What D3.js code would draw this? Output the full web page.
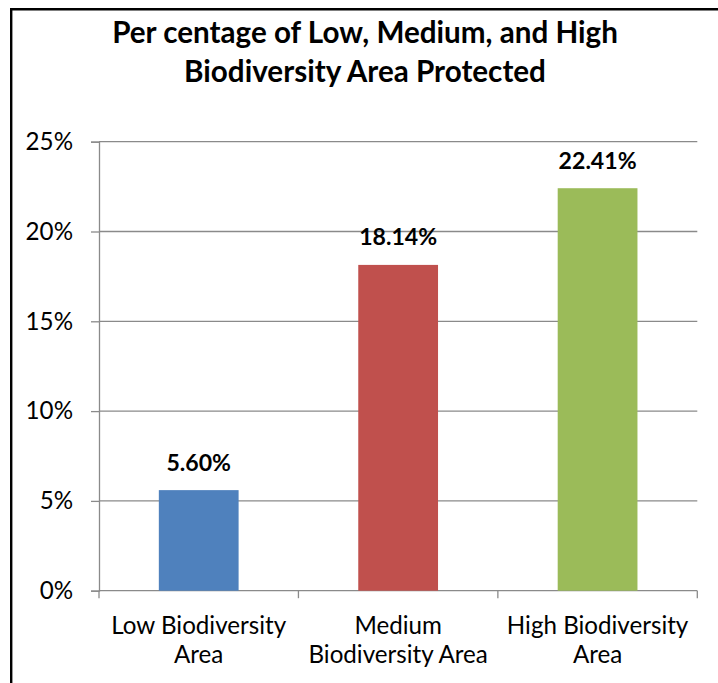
<!DOCTYPE html>
<html><head><meta charset="utf-8">
<script src="https://cdn.jsdelivr.net/npm/d3@7/dist/d3.min.js"></script>
<style>
body{margin:0;background:#fff}
svg{display:block}
text{font-family:Lato,"Open Sans",sans-serif;fill:#000}
</style>
</head><body>
<svg id="chart" width="718" height="683"></svg>
<script>
const categories = ["Low Biodiversity Area", "Medium Biodiversity Area", "High Biodiversity Area"];
const categoryLines = [["Low Biodiversity", "Area"], ["Medium", "Biodiversity Area"], ["High Biodiversity", "Area"]];
const values = [5.60, 18.14, 22.41];
const valueLabels = ["5.60%", "18.14%", "22.41%"];
const barColors = ["#4f81bd", "#c0504d", "#9bbb59"];
const yTicks = [0, 5, 10, 15, 20, 25];
const yTickLabels = ["0%", "5%", "10%", "15%", "20%", "25%"];
const titleLines = ["Per centage of Low, Medium, and High", "Biodiversity Area Protected"];

const svg = d3.select("#chart");

// measure helper to pick font sizes matching the reference text widths
function fitSize(str, weight, target) {
  const t = svg.append("text").attr("font-size", 100).attr("font-weight", weight).text(str);
  const w = t.node().getComputedTextLength();
  t.remove();
  return 100 * target / w;
}
const titleSize = fitSize(titleLines[0], "bold", 506);
const axisSize = fitSize("Low Biodiversity", "normal", 175);
const labelSize = fitSize("22.41%", "bold", 78);

// frame
svg.append("path").attr("d", "M11.2,683 L11.2,9.3 L718,9.3")
  .attr("fill", "none").attr("stroke", "#000").attr("stroke-width", 2.4);

const x = d3.scaleBand().domain(categories).range([99, 697.3]).paddingInner(0.6).paddingOuter(0.3);
const y = d3.scaleLinear().domain([0, 25]).range([590.7, 141.7]);

// gridlines
svg.append("g").selectAll("line").data(yTicks.filter(d => d > 0)).join("line")
  .attr("x1", 99).attr("x2", 697.3)
  .attr("y1", d => y(d)).attr("y2", d => y(d))
  .attr("stroke", "#8a8a8a").attr("stroke-width", 1.3);

// y axis
const yAxis = svg.append("g").attr("transform", "translate(99,0)")
  .call(d3.axisLeft(y).tickValues(yTicks).tickFormat((d, i) => yTickLabels[i]).tickSize(8).tickPadding(18));
yAxis.select(".domain").attr("stroke", "#8a8a8a").attr("stroke-width", 1.3);
yAxis.selectAll(".tick line").attr("stroke", "#8a8a8a").attr("stroke-width", 1.3);
yAxis.selectAll(".tick text").attr("font-size", axisSize).attr("font-family", "Lato, 'Open Sans', sans-serif").attr("fill", "#000");

// x axis line and boundary ticks
const step = x.step();
const x0 = x.range()[0];
const bounds = d3.range(categories.length + 1).map(i => x0 + i * step);
const xAxisG = svg.append("g");
xAxisG.append("line").attr("x1", x0).attr("x2", x.range()[1]).attr("y1", y(0)).attr("y2", y(0))
  .attr("stroke", "#8a8a8a").attr("stroke-width", 1.3);
xAxisG.selectAll("line.tk").data(bounds).join("line").attr("class", "tk")
  .attr("x1", d => d).attr("x2", d => d).attr("y1", y(0)).attr("y2", y(0) + 7.5)
  .attr("stroke", "#8a8a8a").attr("stroke-width", 1.3);

// bars
svg.append("g").selectAll("rect").data(values).join("rect")
  .attr("x", (d, i) => x(categories[i]))
  .attr("width", x.bandwidth())
  .attr("y", d => y(d))
  .attr("height", d => y(0) - y(d))
  .attr("fill", (d, i) => barColors[i]);

// data labels
svg.append("g").selectAll("text").data(values).join("text")
  .attr("x", (d, i) => x(categories[i]) + x.bandwidth() / 2)
  .attr("y", d => y(d) - 19.5)
  .attr("text-anchor", "middle").attr("font-weight", "bold").attr("font-size", labelSize)
  .text((d, i) => valueLabels[i]);

// category labels
const catG = svg.append("g").selectAll("text").data(categories).join("text")
  .attr("text-anchor", "middle").attr("font-size", axisSize)
  .attr("x", d => x(d) + x.bandwidth() / 2);
catG.selectAll("tspan").data((d, i) => categoryLines[i]).join("tspan")
  .attr("x", function() { return this.parentNode.getAttribute("x"); })
  .attr("y", (d, j) => 634.3 + j * 28.7)
  .text(d => d);

// title
svg.append("g").selectAll("text").data(titleLines).join("text")
  .attr("x", 365).attr("y", (d, i) => 43.3 + i * 38.4)
  .attr("text-anchor", "middle").attr("font-weight", "bold").attr("font-size", titleSize)
  .text(d => d);
</script>
</body></html>
